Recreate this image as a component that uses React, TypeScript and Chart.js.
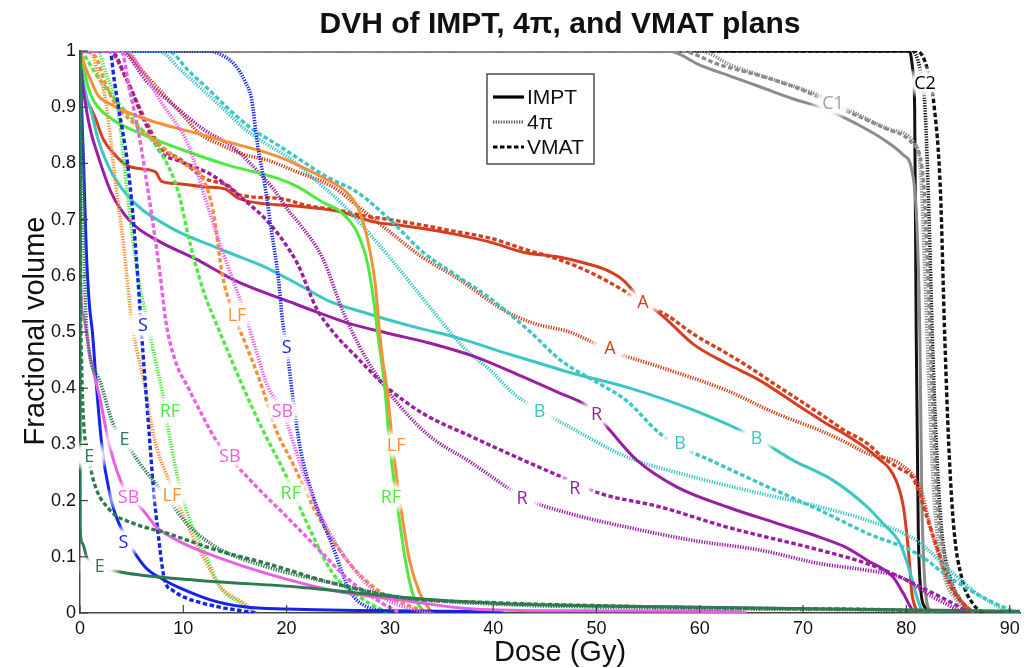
import React, { useEffect, useRef } from 'react';
import { Chart, registerables } from 'chart.js';

Chart.register(...registerables);

type P = [number, number];

// ---- axis ticks ----
const X_TICKS = [0, 10, 20, 30, 40, 50, 60, 70, 80, 90];
const X_TICK_LABELS = ['0', '10', '20', '30', '40', '50', '60', '70', '80', '90'];
const Y_TICKS = [0, 0.1, 0.2, 0.3, 0.4, 0.5, 0.6, 0.7, 0.8, 0.9, 1];
const Y_TICK_LABELS = ['0', '0.1', '0.2', '0.3', '0.4', '0.5', '0.6', '0.7', '0.8', '0.9', '1'];

// ---- DVH curves: [dose (Gy), fractional volume] ----
const A_IMPT: P[] = [[0, 1], [0.15, 0.95], [0.4, 0.925], [1, 0.9], [1.5, 0.88], [2.2, 0.845], [3.4, 0.815], [4.5, 0.797], [6, 0.79], [7.3, 0.785], [7.9, 0.768], [9.5, 0.764], [12.1, 0.758], [14, 0.755], [15.3, 0.738], [18, 0.728], [20.3, 0.725], [23, 0.72], [25.2, 0.714], [28.4, 0.696], [31, 0.69], [33.2, 0.684], [36, 0.675], [39.7, 0.66], [42.9, 0.642], [46.5, 0.633], [49, 0.622], [51, 0.61], [52.6, 0.592], [54.2, 0.56], [56.5, 0.527], [59.4, 0.478], [62.6, 0.444], [65.8, 0.414], [69.7, 0.367], [72, 0.34], [74.5, 0.313], [77.1, 0.278], [79, 0.236], [79.7, 0.19], [80, 0.147], [80.3, 0.09], [80.5, 0.04], [81, 0.005], [81.3, 0]];
const A_4PI: P[] = [[0, 1], [4.2, 1], [6, 0.965], [8, 0.925], [10, 0.885], [11.6, 0.853], [14, 0.83], [16, 0.815], [18.1, 0.806], [21, 0.785], [24.5, 0.758], [26.8, 0.725], [30, 0.678], [33, 0.635], [36.5, 0.596], [41.3, 0.536], [44, 0.515], [47.4, 0.5], [51.3, 0.467], [56.1, 0.438], [62.6, 0.396], [67.4, 0.355], [71.6, 0.325], [74, 0.305], [76.2, 0.284], [79.4, 0.265], [81.3, 0.223], [82.6, 0.134], [83.9, 0.063], [85.5, 0.017], [86.5, 0]];
const A_VMAT: P[] = [[0, 1], [2.8, 1], [4.5, 0.95], [6, 0.89], [7.9, 0.826], [9.5, 0.81], [12.1, 0.773], [14.3, 0.761], [15.6, 0.743], [19.2, 0.738], [22, 0.725], [25.2, 0.716], [27.4, 0.707], [30, 0.7], [33.2, 0.69], [36, 0.68], [39.7, 0.667], [42.9, 0.648], [46.5, 0.628], [49.5, 0.605], [52.6, 0.574], [54.5, 0.55], [56.8, 0.53], [59.5, 0.495], [62.6, 0.462], [65, 0.435], [67.1, 0.409], [69.7, 0.378], [72, 0.35], [74, 0.325], [76.2, 0.302], [77.7, 0.277], [79.5, 0.255], [80.6, 0.241], [81.3, 0.21], [82, 0.17], [83.3, 0.099], [84.5, 0.04], [85.9, 0.01], [86.5, 0]];

const B_IMPT: P[] = [[0, 1], [0.3, 0.95], [0.6, 0.92], [1.1, 0.891], [1.8, 0.84], [2.7, 0.797], [3.5, 0.77], [4.6, 0.743], [6, 0.718], [7.8, 0.696], [10, 0.674], [12.7, 0.654], [15, 0.637], [17.5, 0.619], [21.1, 0.585], [24, 0.556], [27.8, 0.533], [30, 0.521], [33, 0.506], [36.5, 0.49], [41.3, 0.462], [44, 0.447], [47.4, 0.428], [52.9, 0.402], [59.4, 0.361], [65.5, 0.311], [69, 0.272], [72.9, 0.236], [76.2, 0.189], [77.7, 0.16], [79.4, 0.123], [80.3, 0.076], [81.1, 0.023], [81.6, 0]];
const B_4PI: P[] = [[0, 1], [7.6, 1], [9.8, 0.965], [12.1, 0.927], [14, 0.895], [15.9, 0.862], [18, 0.835], [20.3, 0.809], [22.5, 0.775], [25.2, 0.731], [28.4, 0.667], [31.6, 0.596], [34.5, 0.53], [37, 0.475], [39.7, 0.432], [42, 0.39], [44.5, 0.361], [47.4, 0.331], [52.9, 0.278], [59.4, 0.242], [65.8, 0.213], [71.6, 0.189], [76.2, 0.165], [81, 0.129], [84.2, 0.076], [86.8, 0.035], [89, 0.01], [90, 0]];
const B_VMAT: P[] = [[0, 1], [8.5, 1], [10.5, 0.965], [12.7, 0.927], [14.5, 0.895], [16.6, 0.862], [19.2, 0.832], [21.1, 0.809], [24, 0.775], [26.8, 0.749], [30, 0.7], [33.2, 0.642], [36.5, 0.6], [39.7, 0.56], [43.6, 0.5], [46.5, 0.45], [49.7, 0.414], [52.9, 0.378], [56.1, 0.32], [57.9, 0.298], [61, 0.272], [65.8, 0.231], [71.6, 0.183], [76.2, 0.142], [81, 0.106], [84.2, 0.063], [87.4, 0.028], [89.7, 0.008], [90.7, 0]];

const R_IMPT: P[] = [[0, 1], [0.2, 0.95], [0.45, 0.915], [1, 0.86], [1.74, 0.814], [3, 0.749], [4.9, 0.696], [7.8, 0.66], [11.1, 0.631], [15.3, 0.589], [20.4, 0.553], [23, 0.535], [26.1, 0.515], [30, 0.497], [33.9, 0.48], [38.4, 0.455], [42.9, 0.42], [46.5, 0.391], [48.5, 0.375], [49.7, 0.36], [51.3, 0.325], [53.9, 0.272], [57.8, 0.224], [62.6, 0.189], [67.4, 0.16], [71.6, 0.135], [74, 0.118], [76.2, 0.094], [78.7, 0.064], [79.7, 0.035], [80.6, 0.005], [81, 0]];
const R_4PI: P[] = [[0, 1], [3.9, 1], [6.5, 0.945], [9.7, 0.894], [12, 0.86], [14.8, 0.829], [17, 0.79], [18.7, 0.755], [20.3, 0.713], [21.1, 0.696], [23.5, 0.631], [25.6, 0.53], [28.4, 0.432], [33.2, 0.325], [38, 0.266], [41.3, 0.224], [42.9, 0.205], [47.4, 0.177], [52.9, 0.153], [59.4, 0.129], [65.8, 0.112], [71.6, 0.088], [76.2, 0.076], [79.4, 0.064], [82.6, 0.028], [84.5, 0.01], [85.5, 0]];
const R_VMAT: P[] = [[0, 1], [3, 1], [4.5, 0.95], [6, 0.885], [7.8, 0.82], [9.5, 0.805], [12.7, 0.78], [15.9, 0.735], [18.5, 0.69], [20.3, 0.645], [21.1, 0.62], [22.9, 0.542], [24.5, 0.5], [26.8, 0.455], [29.7, 0.402], [33.2, 0.355], [38, 0.313], [42.9, 0.272], [47.4, 0.236], [50.3, 0.213], [56.1, 0.189], [62.6, 0.153], [71.6, 0.112], [76.2, 0.088], [79.4, 0.064], [82.6, 0.035], [85.2, 0.01], [86, 0]];

const S_IMPT: P[] = [[0, 1], [0.15, 0.9], [0.35, 0.8], [0.6, 0.65], [0.9, 0.55], [1.2, 0.5], [1.6, 0.402], [2.2, 0.284], [2.8, 0.22], [3.4, 0.177], [4.6, 0.129], [6.3, 0.082], [8, 0.06], [9.5, 0.046], [12.7, 0.023], [15.9, 0.011], [20, 0.007], [30, 0.004], [40, 0.002], [41, 0]];
const S_4PI: P[] = [[0, 1], [12.5, 1], [14, 0.99], [15, 0.975], [16, 0.945], [16.6, 0.915], [17.2, 0.832], [17.9, 0.761], [18.5, 0.684], [19.2, 0.596], [19.6, 0.52], [20, 0.473], [20.6, 0.384], [21.3, 0.295], [22.6, 0.206], [24.5, 0.117], [26.1, 0.04], [27.8, 0.011], [30.9, 0.002], [32, 0]];
const S_VMAT: P[] = [[0, 1], [2.9, 1], [3.3, 0.95], [3.7, 0.903], [4.6, 0.8], [5.1, 0.713], [5.6, 0.596], [6.1, 0.462], [6.6, 0.343], [7.1, 0.224], [7.6, 0.135], [8.2, 0.058], [9, 0.04], [10.1, 0.028], [13.4, 0.011], [16, 0.003], [17, 0]];

const LF_IMPT: P[] = [[0, 1], [0.2, 0.99], [0.45, 0.975], [1, 0.95], [1.74, 0.921], [3, 0.905], [4.6, 0.891], [7, 0.875], [9.5, 0.862], [12, 0.85], [14.3, 0.838], [17, 0.825], [19.2, 0.812], [21, 0.798], [23.5, 0.775], [25.8, 0.749], [26.8, 0.725], [27.4, 0.696], [28.1, 0.642], [28.6, 0.583], [29, 0.5], [29.3, 0.45], [29.7, 0.402], [30.3, 0.295], [31, 0.195], [31.9, 0.094], [32.9, 0.035], [33.9, 0.005], [34.3, 0]];
const LF_4PI: P[] = [[0, 1], [1.1, 1], [1.7, 0.96], [2.4, 0.921], [3.4, 0.773], [4.3, 0.642], [5, 0.52], [6.3, 0.402], [7.2, 0.31], [8.5, 0.24], [10.5, 0.153], [12.1, 0.094], [13.6, 0.046], [15.9, 0.017], [17, 0]];
const LF_VMAT: P[] = [[0, 1], [1.5, 0.99], [2.3, 0.95], [3.2, 0.912], [5, 0.875], [7.8, 0.832], [10, 0.8], [11.9, 0.773], [12.9, 0.714], [13.8, 0.6], [14.8, 0.535], [16, 0.48], [17.4, 0.414], [19, 0.325], [20.6, 0.266], [22.9, 0.177], [26.1, 0.088], [29.3, 0.035], [32.6, 0.008], [34, 0]];

const RF_IMPT: P[] = [[0, 1], [0.2, 0.985], [0.45, 0.963], [0.8, 0.935], [1.4, 0.909], [3, 0.88], [6.3, 0.85], [9.5, 0.827], [14.3, 0.797], [19.2, 0.773], [21, 0.759], [23.5, 0.731], [25.2, 0.714], [26.8, 0.678], [27.8, 0.625], [28.4, 0.56], [28.8, 0.5], [29.5, 0.402], [30, 0.295], [30.7, 0.195], [31.5, 0.094], [32.2, 0.035], [33.2, 0.005], [33.6, 0]];
const RF_4PI: P[] = [[0, 1], [1.7, 1], [2.5, 0.96], [3.7, 0.891], [4.6, 0.743], [5.6, 0.6], [6.5, 0.52], [7.3, 0.45], [8, 0.39], [8.8, 0.3], [10.1, 0.195], [12.1, 0.106], [13.6, 0.046], [15.6, 0.017], [17, 0]];
const RF_VMAT: P[] = [[0, 1], [0.5, 0.99], [1.5, 0.96], [3.5, 0.912], [5.5, 0.87], [7.7, 0.823], [9.5, 0.75], [10.7, 0.654], [12.1, 0.565], [13.4, 0.506], [15.5, 0.414], [17.7, 0.325], [19.7, 0.254], [22.3, 0.147], [24.5, 0.07], [27.1, 0.028], [29.3, 0.005], [30, 0]];

const SB_IMPT: P[] = [[0, 1], [0.05, 0.6], [0.3, 0.53], [1, 0.455], [1.9, 0.384], [2.9, 0.295], [4.2, 0.224], [6.1, 0.183], [7.4, 0.153], [10, 0.124], [13.2, 0.1], [18.1, 0.07], [24.5, 0.04], [31, 0.023], [37.4, 0.008], [45, 0.004], [63.9, 0.002], [64.5, 0]];
const SB_4PI: P[] = [[0, 1], [4.5, 1], [6, 0.965], [8, 0.905], [10.5, 0.832], [12, 0.745], [13.6, 0.654], [15.9, 0.536], [17, 0.47], [18.2, 0.402], [19.6, 0.36], [21.3, 0.266], [23.2, 0.177], [26.1, 0.088], [29.3, 0.028], [32.6, 0.005], [34, 0]];
const SB_VMAT: P[] = [[0, 1], [4, 1], [4.8, 0.93], [5.6, 0.862], [6.9, 0.713], [7.8, 0.596], [8.3, 0.52], [9.2, 0.45], [10.5, 0.4], [11.6, 0.36], [13.2, 0.307], [16.5, 0.236], [19.7, 0.177], [22.9, 0.117], [26.1, 0.058], [29.3, 0.017], [31, 0]];

const E_IMPT: P[] = [[0, 1], [0.02, 0.15], [0.2, 0.125], [0.65, 0.1], [1.5, 0.085], [3.9, 0.073], [11.6, 0.058], [21.3, 0.046], [31, 0.028], [40.7, 0.017], [56.8, 0.011], [72.9, 0.007], [91, 0.003]];
const E_4PI: P[] = [[0, 1], [0.15, 0.9], [0.3, 0.75], [0.45, 0.6], [0.65, 0.503], [1.9, 0.414], [3.2, 0.337], [4.2, 0.31], [5.8, 0.266], [8.4, 0.206], [10.3, 0.16], [13.2, 0.117], [18.1, 0.082], [24.5, 0.053], [31, 0.028], [40, 0.016], [60, 0.008], [80, 0.004], [85, 0]];
const E_VMAT: P[] = [[0, 1], [0.05, 0.6], [0.15, 0.45], [0.3, 0.355], [0.8, 0.284], [1.3, 0.236], [2.9, 0.183], [5.1, 0.16], [8.4, 0.142], [13.2, 0.112], [18.1, 0.088], [24.5, 0.053], [31, 0.028], [40.7, 0.018], [50.3, 0.013], [66.4, 0.008], [79.4, 0.005], [83, 0]];

const C1_IMPT: P[] = [[0, 1], [57, 1], [60, 0.975], [63, 0.955], [66, 0.935], [69, 0.915], [72, 0.898], [75, 0.872], [78, 0.84], [79.7, 0.815], [80.5, 0.79], [81, 0.7], [81.3, 0.5], [81.5, 0.2], [81.8, 0.05], [82.3, 0.005], [83, 0]];
const C1_4PI: P[] = [[0, 1], [60, 1], [63, 0.975], [67, 0.95], [71, 0.925], [75, 0.89], [78.5, 0.86], [80.8, 0.835], [81.4, 0.78], [81.8, 0.6], [82.2, 0.4], [82.7, 0.2], [83.5, 0.08], [85, 0.02], [86, 0]];
const C1_VMAT: P[] = [[0, 1], [58, 1], [62, 0.975], [66, 0.955], [70, 0.93], [74, 0.895], [78, 0.862], [80.6, 0.835], [81.6, 0.78], [82.1, 0.6], [82.5, 0.4], [83, 0.2], [83.8, 0.09], [85.2, 0.025], [86.5, 0]];

const C2_IMPT: P[] = [[0, 1], [80.3, 1], [80.6, 0.97], [80.8, 0.9], [80.95, 0.5], [81.15, 0.15], [81.4, 0.04], [81.8, 0.01], [82.2, 0]];
const C2_4PI: P[] = [[0, 1], [80.5, 1], [81.3, 0.97], [81.8, 0.9], [82.2, 0.7], [82.5, 0.5], [82.9, 0.3], [83.4, 0.15], [84.3, 0.06], [85.5, 0.015], [86.5, 0]];
const C2_VMAT: P[] = [[0, 1], [81, 1], [82, 0.97], [82.7, 0.9], [83.3, 0.75], [83.7, 0.5], [84.1, 0.3], [84.6, 0.15], [85.4, 0.06], [86.5, 0.015], [87.5, 0]];

// ---- structure / plan lists ----
const PLANS = ['IMPT', '4π', 'VMAT'];
const STRUCTURES = ['E', 'SB', 'S', 'LF', 'RF', 'R', 'B', 'A', 'C1', 'C2'];
const CURVES: Record<string, P[][]> = {
  E: [E_IMPT, E_4PI, E_VMAT],
  SB: [SB_IMPT, SB_4PI, SB_VMAT],
  S: [S_IMPT, S_4PI, S_VMAT],
  LF: [LF_IMPT, LF_4PI, LF_VMAT],
  RF: [RF_IMPT, RF_4PI, RF_VMAT],
  R: [R_IMPT, R_4PI, R_VMAT],
  B: [B_IMPT, B_4PI, B_VMAT],
  A: [A_IMPT, A_4PI, A_VMAT],
  C1: [C1_IMPT, C1_4PI, C1_VMAT],
  C2: [C2_IMPT, C2_4PI, C2_VMAT],
};

// ---- curve name annotations: [text, dose, volume] ----
const ANNOTATIONS: [string, number, number][] = [
  ['C1', 72.9, 0.907], ['C2', 81.8, 0.944],
  ['A', 54.5, 0.554], ['A', 51.3, 0.471],
  ['B', 44.5, 0.36], ['B', 58.1, 0.302], ['B', 65.5, 0.312],
  ['R', 50, 0.355], ['R', 47.9, 0.222], ['R', 42.8, 0.204],
  ['S', 6.1, 0.512], ['S', 20, 0.474], ['S', 4.2, 0.127],
  ['LF', 15.2, 0.531], ['LF', 30.6, 0.3], ['LF', 8.9, 0.211],
  ['RF', 8.7, 0.36], ['RF', 20.4, 0.213], ['RF', 30.1, 0.206],
  ['SB', 19.6, 0.36], ['SB', 14.5, 0.28], ['SB', 4.7, 0.206],
  ['E', 0.9, 0.28], ['E', 4.3, 0.31], ['E', 1.9, 0.083],
];

// ---- styles ----
const COLORS: Record<string, string> = {
  A: '#d4401f', B: '#3cc6c4', R: '#9a1ea4', S: '#1424ee', LF: '#f4913c',
  RF: '#4eea42', SB: '#ea5fe4', E: '#2f7a50', C1: '#8c8c8c', C2: '#111111',
};
const LABEL_COLORS: Record<string, string> = { ...COLORS, C1: '#a0a0a0', C2: '#000000' };
const PLAN_DASH: Record<string, number[]> = { IMPT: [], '4π': [1.3, 1.3], VMAT: [4.5, 2.5] };
const PLAN_WIDTH: Record<string, number> = { IMPT: 3, '4π': 3.6, VMAT: 3.4 };

const FONT = '"Liberation Sans", Arial, Helvetica, sans-serif';

const overlay = {
  id: 'dvhOverlay',
  afterDatasetsDraw(chart: any) {
    const { ctx, scales } = chart;
    const xs = scales.x, ys = scales.y;
    ctx.save();
    ANNOTATIONS.forEach(([t, d, v]) => {
      const px = xs.getPixelForValue(d);
      const py = ys.getPixelForValue(v);
      ctx.save();
      ctx.translate(px, py);
      ctx.scale(1.35, 1);
      const g = ctx.createRadialGradient(0, 0, 0, 0, 0, 17);
      g.addColorStop(0, 'rgba(255,255,255,1)');
      g.addColorStop(0.55, 'rgba(255,255,255,0.95)');
      g.addColorStop(1, 'rgba(255,255,255,0)');
      ctx.fillStyle = g;
      ctx.beginPath();
      ctx.arc(0, 0, 17, 0, Math.PI * 2);
      ctx.fill();
      ctx.restore();
      ctx.fillStyle = LABEL_COLORS[t];
      ctx.font = '18px "Open Sans", "Noto Sans", sans-serif';
      ctx.textAlign = 'center';
      ctx.textBaseline = 'middle';
      ctx.fillText(t, px, py + 1);
    });
    ctx.restore();
  },
  afterDraw(chart: any) {
    const { ctx, chartArea, scales } = chart;
    const xs = scales.x, ys = scales.y;
    ctx.save();
    // inward tick marks
    ctx.strokeStyle = '#444';
    ctx.lineWidth = 1.2;
    ctx.setLineDash([]);
    X_TICKS.forEach((v) => {
      const px = xs.getPixelForValue(v);
      ctx.beginPath();
      ctx.moveTo(px, chartArea.bottom);
      ctx.lineTo(px, chartArea.bottom - 8);
      ctx.stroke();
    });
    Y_TICKS.forEach((v) => {
      const py = ys.getPixelForValue(v);
      ctx.beginPath();
      ctx.moveTo(chartArea.left, py);
      ctx.lineTo(chartArea.left + 8, py);
      ctx.stroke();
    });
    // title
    ctx.fillStyle = '#111';
    ctx.font = `bold 30px ${FONT}`;
    ctx.textAlign = 'center';
    ctx.textBaseline = 'alphabetic';
    ctx.fillText('DVH of IMPT, 4π, and VMAT plans', 560, 33);
    // x axis title
    ctx.font = `29px ${FONT}`;
    ctx.fillText('Dose (Gy)', 560, 661);
    // y axis title
    ctx.save();
    ctx.translate(44, 331);
    ctx.rotate(-Math.PI / 2);
    ctx.fillText('Fractional volume', 0, 0);
    ctx.restore();
    // legend
    const lx = 487, ly = 74, lw = 107, lh = 90;
    ctx.fillStyle = '#fff';
    ctx.fillRect(lx, ly, lw, lh);
    ctx.strokeStyle = '#222';
    ctx.lineWidth = 1.2;
    ctx.strokeRect(lx, ly, lw, lh);
    const rows = [97, 122, 147];
    const legendColors = ['#000', '#555', '#000'];
    PLANS.forEach((p, i) => {
      ctx.beginPath();
      ctx.setLineDash(PLAN_DASH[p]);
      ctx.lineWidth = p === '4π' ? 3 : 3.2;
      ctx.strokeStyle = legendColors[i];
      ctx.moveTo(493, rows[i]);
      ctx.lineTo(524, rows[i]);
      ctx.stroke();
      ctx.setLineDash([]);
      ctx.fillStyle = '#111';
      ctx.font = `21px ${FONT}`;
      ctx.textAlign = 'left';
      ctx.textBaseline = 'middle';
      ctx.fillText(p, 527, rows[i] + 1);
    });
    ctx.restore();
  },
};

export default function App() {
  const ref = useRef<HTMLCanvasElement | null>(null);
  useEffect(() => {
    if (!ref.current) return;
    const datasets: any[] = [];
    STRUCTURES.forEach((s) => {
      PLANS.forEach((p, i) => {
        datasets.push({
          label: `${s} ${p}`,
          data: CURVES[s][i].map(([x, y]) => ({ x, y })),
          borderColor: COLORS[s],
          borderWidth: PLAN_WIDTH[p],
          borderDash: PLAN_DASH[p],
          pointRadius: 0,
          fill: false,
          cubicInterpolationMode: 'monotone',
        });
      });
    });
    const chart = new Chart(ref.current, {
      type: 'line',
      data: { datasets },
      options: {
        animation: false,
        responsive: true,
        maintainAspectRatio: false,
        layout: { padding: { top: 51, right: 6, left: 0, bottom: 0 } },
        plugins: { legend: { display: false }, tooltip: { enabled: false }, title: { display: false } },
        elements: { point: { radius: 0 }, line: { borderCapStyle: 'butt', borderJoinStyle: 'round' } },
        scales: {
          x: {
            type: 'linear',
            min: 0,
            max: 91,
            grid: { display: false, drawTicks: false },
            border: { display: true, color: '#444', width: 1.5 },
            afterBuildTicks: (s: any) => { s.ticks = X_TICKS.map((value) => ({ value })); },
            afterFit: (s: any) => { s.height = 55; },
            ticks: {
              autoSkip: false,
              maxRotation: 0,
              padding: 5,
              color: '#111',
              font: { family: FONT, size: 18 },
              callback: (_v: any, i: number) => X_TICK_LABELS[i],
            },
          },
          y: {
            type: 'linear',
            min: 0,
            max: 1,
            grid: { display: false, drawTicks: false },
            border: { display: true, color: '#444', width: 1.5 },
            afterBuildTicks: (s: any) => { s.ticks = Y_TICKS.map((value) => ({ value })); },
            afterFit: (s: any) => { s.width = 80; },
            ticks: {
              autoSkip: false,
              padding: 4,
              color: '#111',
              font: { family: FONT, size: 18 },
              callback: (_v: any, i: number) => Y_TICK_LABELS[i],
            },
          },
        },
      } as any,
      plugins: [overlay],
    });
    return () => chart.destroy();
  }, []);
  return (
    <div style={{ position: 'absolute', left: 0, top: 0, width: 1026, height: 668, background: '#fff' }}>
      <canvas ref={ref} />
    </div>
  );
}
